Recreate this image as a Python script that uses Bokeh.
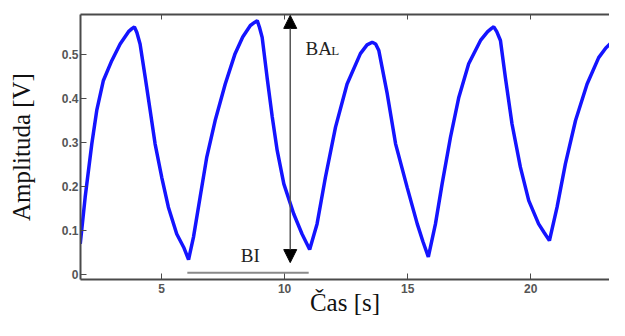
from bokeh.plotting import figure
from bokeh.models import Range1d, LinearAxis, Arrow, NormalHead, Label, FixedTicker
from bokeh.embed import file_html
from bokeh.resources import INLINE

# Signal: time [s] and amplitude [V]
time_s = [1.70, 1.90, 2.17, 2.37, 2.64, 2.98, 3.32, 3.66, 3.80, 3.90, 4.00,
          4.13, 4.34, 4.54, 4.74, 5.01, 5.28, 5.62, 5.90, 6.10,
          6.30, 6.57, 6.84, 7.18, 7.59, 7.99, 8.30, 8.61, 8.78, 8.89, 8.98,
          9.09, 9.29, 9.50, 9.70, 9.97, 10.37, 10.71, 11.02,
          11.32, 11.66, 12.07, 12.54, 13.08, 13.35, 13.56, 13.70,
          13.83, 14.17, 14.51, 14.98, 15.39, 15.62, 15.84,
          16.13, 16.40, 16.74, 17.08, 17.48, 17.96, 18.25, 18.42, 18.50, 18.62,
          18.77, 18.97, 19.24, 19.58, 19.92, 20.32, 20.55, 20.76,
          21.07, 21.41, 21.82, 22.29, 22.76, 23.05, 23.24,
          23.51, 23.72, 23.85]
amp_v = [0.070, 0.176, 0.297, 0.373, 0.441, 0.486, 0.524, 0.552, 0.559, 0.563, 0.550,
         0.524, 0.448, 0.373, 0.297, 0.221, 0.153, 0.092, 0.062, 0.034,
         0.085, 0.176, 0.267, 0.350, 0.433, 0.502, 0.540, 0.566, 0.573, 0.577, 0.562,
         0.539, 0.448, 0.358, 0.282, 0.206, 0.138, 0.092, 0.057,
         0.115, 0.221, 0.335, 0.433, 0.502, 0.522, 0.528, 0.524,
         0.509, 0.411, 0.297, 0.198, 0.115, 0.075, 0.040,
         0.115, 0.206, 0.312, 0.403, 0.479, 0.532, 0.552, 0.560, 0.563, 0.552,
         0.532, 0.448, 0.342, 0.244, 0.168, 0.115, 0.095, 0.077,
         0.153, 0.252, 0.350, 0.433, 0.493, 0.515, 0.525,
         0.486, 0.411, 0.358]

x_ticks = [5, 10, 15, 20]
y_ticks = [0, 0.1, 0.2, 0.3, 0.4, 0.5]
y_tick_labels = {0: "0", 0.1: "0.1", 0.2: "0.2", 0.3: "0.3", 0.4: "0.4", 0.5: "0.5"}

x_label = "Čas [s]"
y_label = "Amplituda [V]"

# Annotations (data units)
ba_arrow_x = 10.23
ba_arrow_y = [0.027, 0.589]
bi_line_x = [6.05, 10.98]
bi_line_y = [0.004, 0.004]
ba_text = ("BA", 10.85, 0.514)
ba_sub = ("L", 11.90, 0.510)
bi_text = ("BI", 8.22, 0.043)

x_range = (1.71, 23.20)
y_range = (-0.0114, 0.591)

p = figure(width=609, height=320, output_backend="svg", toolbar_location=None,
           x_range=Range1d(*x_range), y_range=Range1d(*y_range),
           min_border_left=80, min_border_right=0, min_border_top=14, min_border_bottom=41)
p.outline_line_color = None
p.xgrid.visible = False
p.ygrid.visible = False
p.background_fill_color = "white"
p.border_fill_color = "white"

frame_col = "#4a4a4a"
tick_col = "#555555"

def style_axis(ax):
    ax.axis_line_width = 2
    ax.axis_line_color = frame_col
    ax.major_tick_in = 6
    ax.major_tick_out = 0
    ax.minor_tick_in = 0
    ax.minor_tick_out = 0
    ax.major_tick_line_color = frame_col
    ax.major_tick_line_width = 1
    ax.major_label_text_font = "Liberation Sans"
    ax.major_label_text_font_style = "bold"
    ax.major_label_text_font_size = "12px"
    ax.major_label_text_color = tick_col
    ax.axis_label_text_font = "Liberation Serif"
    ax.axis_label_text_font_style = "normal"
    ax.axis_label_text_font_size = "25px"
    ax.axis_label_text_color = "#111111"

xa = p.xaxis[0]
ya = p.yaxis[0]
style_axis(xa)
style_axis(ya)
xa.ticker = FixedTicker(ticks=x_ticks)
ya.ticker = FixedTicker(ticks=y_ticks)
ya.major_label_overrides = y_tick_labels
ya.axis_label = y_label
xa.axis_label = x_label
ya.major_label_standoff = 2
ya.axis_label_standoff = 24
xa.major_label_standoff = 4
xa.axis_label_standoff = -7

top = LinearAxis(ticker=FixedTicker(ticks=x_ticks))
style_axis(top)
top.major_label_overrides = {t: "" for t in x_ticks}
top.major_label_standoff = 0
top.major_tick_in = 5
p.add_layout(top, "above")

p.line(time_s, amp_v, line_color="#1414ff", line_width=3.5)

p.line(bi_line_x, bi_line_y, line_color="#8a8a8a", line_width=2)

p.add_layout(Arrow(start=NormalHead(size=13, fill_color="black", line_color="black"),
                   end=NormalHead(size=13, fill_color="black", line_color="black"),
                   x_start=ba_arrow_x, y_start=ba_arrow_y[1],
                   x_end=ba_arrow_x, y_end=ba_arrow_y[0],
                   line_color="#555555", line_width=1.5))

for txt, tx, ty, size in [(ba_text[0], ba_text[1], ba_text[2], "19px"),
                          (ba_sub[0], ba_sub[1], ba_sub[2], "13px"),
                          (bi_text[0], bi_text[1], bi_text[2], "19px")]:
    p.add_layout(Label(x=tx, y=ty, text=txt, text_font="Liberation Serif",
                       text_font_size=size, text_color="#222222",
                       text_align="left", text_baseline="alphabetic"))

open("out.html", "w").write(file_html(p, INLINE))
